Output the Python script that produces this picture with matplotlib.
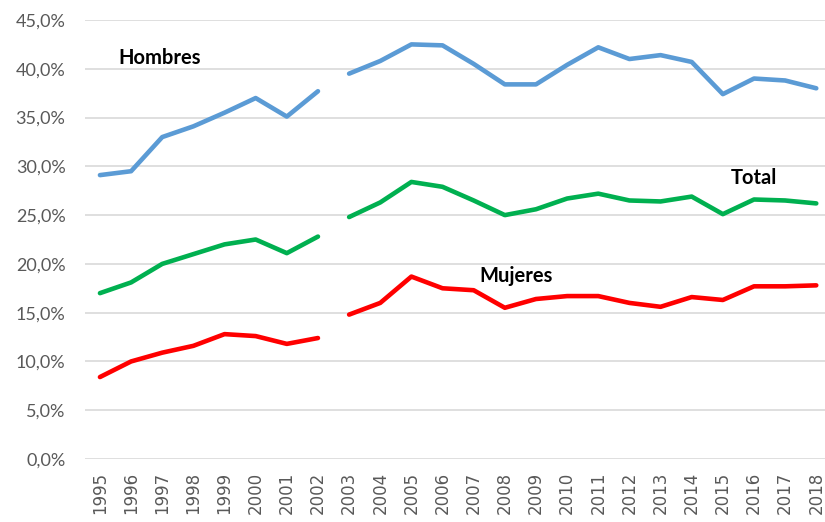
import matplotlib
matplotlib.use("Agg")
import matplotlib.pyplot as plt
import numpy as np

years = [str(y) for y in range(1995, 2019)]
hombres = [29.1, 29.5, 33.0, 34.1, 35.5, 37.0, 35.1, 37.7,
           39.5, 40.8, 42.5, 42.4, 40.5, 38.4, 38.4, 40.4, 42.2, 41.0, 41.4, 40.7, 37.4, 39.0, 38.8, 38.0]
total = [17.0, 18.1, 20.0, 21.0, 22.0, 22.5, 21.1, 22.8,
         24.8, 26.3, 28.4, 27.9, 26.5, 25.0, 25.6, 26.7, 27.2, 26.5, 26.4, 26.9, 25.1, 26.6, 26.5, 26.2]
mujeres = [8.4, 10.0, 10.9, 11.6, 12.8, 12.6, 11.8, 12.4,
           14.8, 16.0, 18.7, 17.5, 17.3, 15.5, 16.4, 16.7, 16.7, 16.0, 15.6, 16.6, 16.3, 17.7, 17.7, 17.8]
yticks = [0, 5, 10, 15, 20, 25, 30, 35, 40, 45]
ytick_labels = ["0,0%", "5,0%", "10,0%", "15,0%", "20,0%", "25,0%", "30,0%", "35,0%", "40,0%", "45,0%"]

fig = plt.figure(figsize=(8.25, 5.22), dpi=100)
ax = fig.add_axes([85/825, 1-459/522, 740/825, (459-20)/522])

x = np.arange(len(years))
gap = 8  # break between 2002 and 2003
series = [(hombres, "#5B9BD5"), (total, "#00B050"), (mujeres, "#FF0000")]
for vals, col in series:
    ax.plot(x[:gap], vals[:gap], color=col, lw=3.3, solid_capstyle="round", solid_joinstyle="round")
    ax.plot(x[gap:], vals[gap:], color=col, lw=3.3, solid_capstyle="round", solid_joinstyle="round")

ax.set_xlim(-0.48, 23.28)
ax.set_ylim(0, 45)
ax.set_yticks(yticks)
ax.set_yticklabels(ytick_labels, fontsize=13, color="#595959", family="Lato")
ax.set_xticks(x)
ax.set_xticklabels(years, rotation=90, fontsize=12, color="#595959", family="DejaVu Sans")
ax.tick_params(axis="both", length=0)
ax.tick_params(axis="y", pad=14)
ax.tick_params(axis="x", pad=9)
ax.grid(axis="y", color="#D9D9D9", lw=1.2)
ax.set_axisbelow(True)
for s in ax.spines.values():
    s.set_visible(False)

ax.text(0.58, 41.15, "Hombres", fontsize=14.5, fontweight="bold", family="Lato", va="center", ha="left")
ax.text(20.24, 28.8, "Total", fontsize=14.5, fontweight="bold", family="Lato", va="center", ha="left")
ax.text(12.17, 18.76, "Mujeres", fontsize=14.5, fontweight="bold", family="Lato", va="center", ha="left")

fig.savefig("out.png", dpi=100)
